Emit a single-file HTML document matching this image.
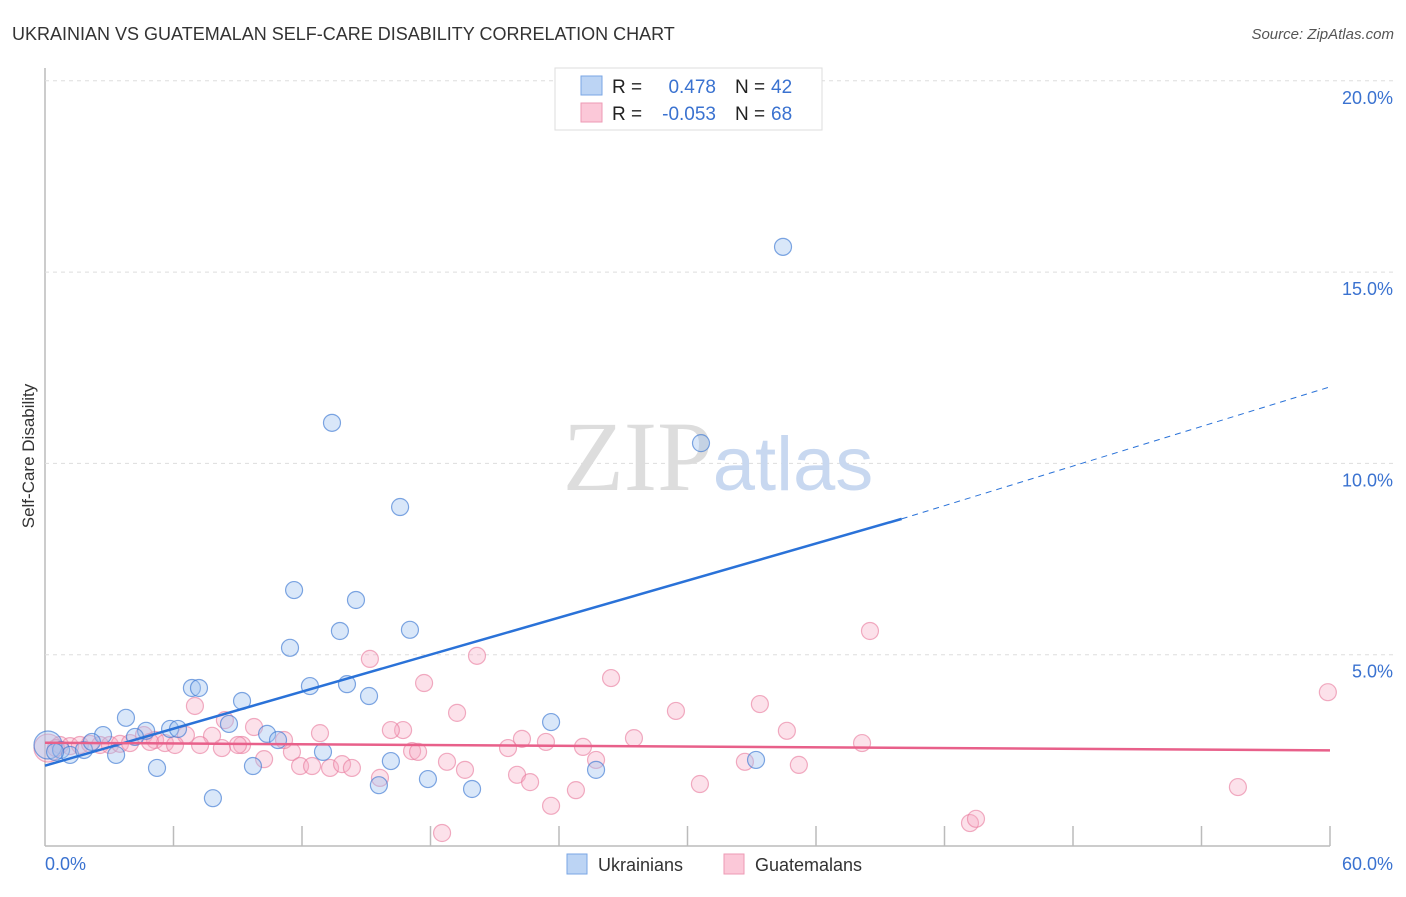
<!DOCTYPE html>
<html><head><meta charset="utf-8"><style>
body{margin:0;background:#fff;font-family:"Liberation Sans",sans-serif;}
svg text{font-family:"Liberation Sans",sans-serif;}
</style></head><body>
<svg id="chart" width="1406" height="892" xmlns="http://www.w3.org/2000/svg">
<text x="12" y="40" font-size="18" fill="#333">UKRAINIAN VS GUATEMALAN SELF-CARE DISABILITY CORRELATION CHART</text>
<text x="1394" y="39" font-size="15" fill="#555" font-style="italic" text-anchor="end">Source: ZipAtlas.com</text>
<g id="grid"></g>
<text x="718" y="490" font-size="100" text-anchor="middle"><tspan fill="#ddd" font-family="Liberation Serif">ZIP</tspan><tspan fill="#c8d8f0" font-size="76">atlas</tspan></text>
<text transform="translate(34,456) rotate(-90)" font-size="17" fill="#333" text-anchor="middle">Self-Care Disability</text>
<g id="marks"></g>
<g id="lines"></g>
<g>
<rect x="555" y="68" width="267" height="62" fill="#fff" stroke="#ddd"/>
<rect x="581" y="76" width="21" height="19" fill="#bcd4f4" stroke="#7aa6e4"/>
<rect x="581" y="103" width="21" height="19" fill="#fbc8d8" stroke="#ee9ab4"/>
<text x="612" y="93" font-size="19" fill="#222">R =</text>
<text x="716" y="93" font-size="19" fill="#3a72d0" text-anchor="end">0.478</text>
<text x="735" y="93" font-size="19" fill="#222">N =</text>
<text x="771" y="93" font-size="19" fill="#3a72d0">42</text>
<text x="612" y="120" font-size="19" fill="#222">R =</text>
<text x="716" y="120" font-size="19" fill="#3a72d0" text-anchor="end">-0.053</text>
<text x="735" y="120" font-size="19" fill="#222">N =</text>
<text x="771" y="120" font-size="19" fill="#3a72d0">68</text>
</g>
<g>
<rect x="567" y="854" width="20" height="20" fill="#bcd4f4" stroke="#7aa6e4"/>
<text x="598" y="871" font-size="18" fill="#333">Ukrainians</text>
<rect x="724" y="854" width="20" height="20" fill="#fbc8d8" stroke="#ee9ab4"/>
<text x="755" y="871" font-size="18" fill="#333">Guatemalans</text>
</g>
</svg>
<script>
const xTicks=[0,10,20,30,40,50,60];
const yTicks=[5,10,15,20];
const blueX=[0.14,34.46,13.40,30.63,16.58,11.63,14.52,13.77,17.04,11.44,6.86,7.19,12.37,14.10,15.13,9.20,3.78,23.63,8.59,5.84,4.72,6.21,2.71,4.20,10.37,10.88,0.75,1.17,1.82,2.19,12.98,3.32,16.15,9.71,5.23,33.20,25.73,17.88,15.59,19.94,7.84,0.47];
const blueY=[2.64,15.66,11.06,10.53,8.86,6.69,6.43,5.62,5.65,5.18,4.13,4.13,4.18,4.23,3.92,3.79,3.35,3.24,3.19,3.06,3.01,3.06,2.90,2.85,2.93,2.77,2.51,2.38,2.51,2.72,2.46,2.38,2.22,2.09,2.04,2.25,1.99,1.75,1.59,1.49,1.25,2.46];
const pinkX=[0.14,38.52,59.90,15.17,20.17,26.43,17.70,19.24,29.46,33.38,8.40,9.76,16.72,16.15,12.84,34.64,27.50,38.15,23.39,22.27,25.12,4.62,6.58,7.00,7.80,9.20,11.53,17.14,17.42,21.62,10.23,11.91,12.47,13.31,13.87,14.33,18.77,19.61,22.04,22.65,24.79,30.58,32.68,35.20,55.70,15.64,23.63,18.54,43.19,43.47,0.70,1.17,1.63,2.10,2.57,3.03,3.50,3.97,5.14,5.60,6.07,0.51,7.24,8.26,9.01,11.16,25.73,4.90];
const pinkY=[2.56,5.62,4.02,4.89,4.97,4.39,4.26,3.48,3.53,3.71,3.29,3.11,3.03,3.03,2.95,3.01,2.82,2.69,2.72,2.80,2.59,2.90,2.90,3.66,2.88,2.64,2.46,2.48,2.46,2.56,2.27,2.09,2.09,2.04,2.14,2.04,2.20,1.99,1.86,1.67,1.46,1.62,2.20,2.12,1.54,1.78,1.05,0.34,0.60,0.71,2.64,2.61,2.64,2.67,2.64,2.64,2.67,2.69,2.77,2.69,2.64,2.56,2.64,2.56,2.64,2.77,2.25,2.72];
const blueTrend=[2.1,8.55,12.0]; // y at x=0, 40, 60
const pinkTrend=[2.7,2.5]; // y at x=0, 60
const NS='http://www.w3.org/2000/svg';
const X=v=>45+v/60*1285, Y=v=>846-v/5*191.3;
function mk(t,a,p){const e=document.createElementNS(NS,t);for(const k in a)e.setAttribute(k,a[k]);p.appendChild(e);return e;}
const grid=document.getElementById('grid');
mk('line',{x1:45,y1:68,x2:45,y2:846,stroke:'#bbb','stroke-width':1.5},grid);
mk('line',{x1:45,y1:846,x2:1330,y2:846,stroke:'#bbb','stroke-width':1.5},grid);
for(const t of yTicks){
 const l=mk('line',{x1:45,y1:Y(t),x2:1394,y2:Y(t),stroke:'#ddd','stroke-dasharray':'4,4'},grid);
 
 
 const tx=mk('text',{x:1393,y:Y(t)+23,'font-size':18,fill:'#3a72d0','text-anchor':'end'},grid);
 tx.textContent=t.toFixed(1)+'%';
 
 
}
for(let i=0;i<=10;i++){
 const xv=i*6; const x=X(xv);
 if(i>0) mk('line',{x1:x,y1:826,x2:x,y2:846,stroke:'#bbb','stroke-width':1.5},grid);
}
for(const t of [0,60]){
 const tx=mk('text',{x:t==0?45:1393,y:870,'font-size':18,fill:'#3a72d0','text-anchor':t==0?'start':'end'},grid);
 tx.textContent=t.toFixed(1)+'%';
 
 
}
const marks=document.getElementById('marks');
pinkX.forEach((v,i)=>{
 const c=mk('circle',{cx:X(v),cy:Y(pinkY[i]),r:i==0?14:8.5,fill:'rgba(246,170,196,0.35)',stroke:'rgba(232,120,155,0.6)','stroke-width':1.2},marks);
 
 
});
blueX.forEach((v,i)=>{
 const c=mk('circle',{cx:X(v),cy:Y(blueY[i]),r:i==0?14:8.5,fill:'rgba(160,195,240,0.4)',stroke:'rgba(60,120,210,0.65)','stroke-width':1.2},marks);
 
 
});
const lines=document.getElementById('lines');
const b1=mk('line',{x1:X(0),y1:Y(blueTrend[0]),x2:X(40),y2:Y(blueTrend[1]),stroke:'#2a72d8','stroke-width':2.5},lines);


const b2=mk('line',{x1:X(40),y1:Y(blueTrend[1]),x2:X(60),y2:Y(blueTrend[2]),stroke:'#2a72d8','stroke-width':1,'stroke-dasharray':'6,5'},lines);


const p1=mk('line',{x1:X(0),y1:Y(pinkTrend[0]),x2:X(60),y2:Y(pinkTrend[1]),stroke:'#e8608a','stroke-width':2.5},lines);


</script>
</body></html>
